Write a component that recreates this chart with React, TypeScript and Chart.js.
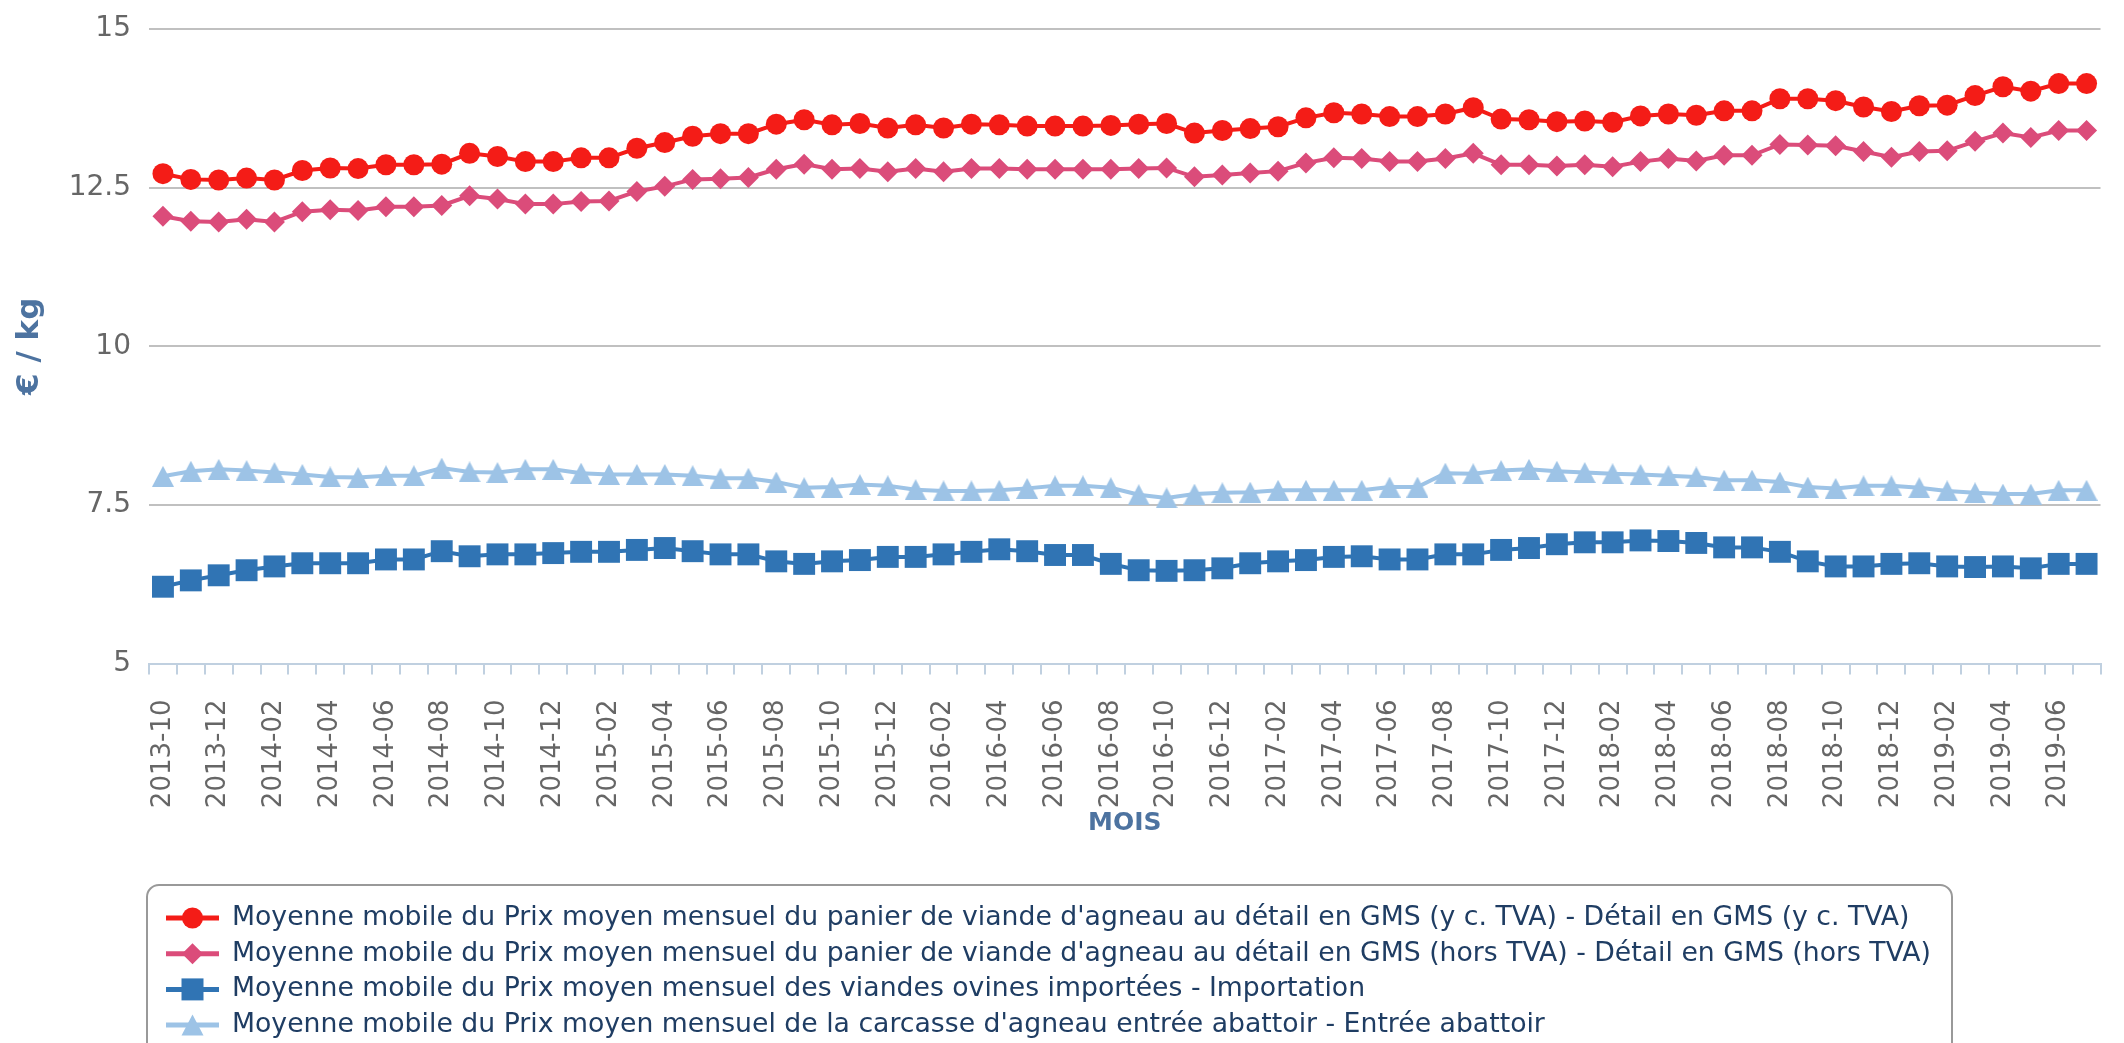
import React, { useEffect, useRef } from 'react';
import { Chart, registerables } from 'chart.js';

Chart.register(...registerables);

const months = [
  '2013-10', '2013-11', '2013-12',
  '2014-01', '2014-02', '2014-03', '2014-04', '2014-05', '2014-06', '2014-07', '2014-08', '2014-09', '2014-10', '2014-11', '2014-12',
  '2015-01', '2015-02', '2015-03', '2015-04', '2015-05', '2015-06', '2015-07', '2015-08', '2015-09', '2015-10', '2015-11', '2015-12',
  '2016-01', '2016-02', '2016-03', '2016-04', '2016-05', '2016-06', '2016-07', '2016-08', '2016-09', '2016-10', '2016-11', '2016-12',
  '2017-01', '2017-02', '2017-03', '2017-04', '2017-05', '2017-06', '2017-07', '2017-08', '2017-09', '2017-10', '2017-11', '2017-12',
  '2018-01', '2018-02', '2018-03', '2018-04', '2018-05', '2018-06', '2018-07', '2018-08', '2018-09', '2018-10', '2018-11', '2018-12',
  '2019-01', '2019-02', '2019-03', '2019-04', '2019-05', '2019-06', '2019-07',
];

const detailTTC = [
  12.72, 12.63, 12.62, 12.65, 12.62, 12.77, 12.81, 12.80, 12.86, 12.86,
  12.87, 13.04, 12.99, 12.91, 12.91, 12.97, 12.97, 13.12, 13.21, 13.31,
  13.35, 13.35, 13.50, 13.57, 13.49, 13.51, 13.44, 13.49, 13.44, 13.50,
  13.49, 13.47, 13.47, 13.47, 13.48, 13.50, 13.51, 13.36, 13.40, 13.43,
  13.46, 13.60, 13.68, 13.66, 13.62, 13.62, 13.66, 13.76, 13.58, 13.57,
  13.54, 13.55, 13.53, 13.63, 13.66, 13.64, 13.71, 13.71, 13.90, 13.90,
  13.87, 13.77, 13.70, 13.79, 13.80, 13.95, 14.09, 14.02, 14.14, 14.14,
];

const detailHT = [
  12.05, 11.97, 11.96, 12.00, 11.96, 12.12, 12.15, 12.14, 12.20, 12.20,
  12.22, 12.37, 12.32, 12.24, 12.24, 12.28, 12.29, 12.44, 12.52, 12.63,
  12.64, 12.66, 12.79, 12.87, 12.79, 12.80, 12.75, 12.80, 12.75, 12.80,
  12.80, 12.79, 12.79, 12.79, 12.79, 12.80, 12.81, 12.67, 12.70, 12.73,
  12.76, 12.89, 12.97, 12.96, 12.91, 12.91, 12.96, 13.04, 12.86, 12.86,
  12.84, 12.86, 12.83, 12.91, 12.96, 12.92, 13.01, 13.01, 13.18, 13.17,
  13.16, 13.07, 12.98, 13.07, 13.08, 13.23, 13.36, 13.29, 13.40, 13.40,
];

const importation = [
  6.21, 6.31, 6.39, 6.47, 6.53, 6.58, 6.58, 6.58, 6.64, 6.64,
  6.77, 6.69, 6.72, 6.72, 6.74, 6.76, 6.76, 6.79, 6.82, 6.77,
  6.72, 6.72, 6.61, 6.57, 6.61, 6.63, 6.68, 6.68, 6.72, 6.76,
  6.80, 6.77, 6.71, 6.71, 6.57, 6.47, 6.46, 6.47, 6.50, 6.58,
  6.61, 6.63, 6.68, 6.69, 6.64, 6.64, 6.72, 6.72, 6.79, 6.82,
  6.88, 6.91, 6.91, 6.94, 6.93, 6.90, 6.83, 6.83, 6.76, 6.61,
  6.53, 6.53, 6.57, 6.58, 6.53, 6.52, 6.53, 6.50, 6.57, 6.57,
];

const abattoir = [
  7.95, 8.03, 8.06, 8.04, 8.01, 7.98, 7.94, 7.93, 7.96, 7.96,
  8.08, 8.02, 8.01, 8.06, 8.06, 8.00, 7.98, 7.98, 7.98, 7.96,
  7.92, 7.92, 7.86, 7.77, 7.78, 7.82, 7.80, 7.74, 7.72, 7.72,
  7.73, 7.76, 7.80, 7.80, 7.77, 7.66, 7.61, 7.67, 7.69, 7.70,
  7.73, 7.73, 7.73, 7.73, 7.78, 7.78, 8.00, 7.99, 8.04, 8.06,
  8.03, 8.01, 7.99, 7.98, 7.96, 7.94, 7.89, 7.89, 7.86, 7.78,
  7.76, 7.80, 7.80, 7.77, 7.72, 7.69, 7.67, 7.67, 7.73, 7.73,
];

const seriesNames = [
  "Moyenne mobile du Prix moyen mensuel du panier de viande d'agneau au détail en GMS (y c. TVA) - Détail en GMS (y c. TVA)",
  "Moyenne mobile du Prix moyen mensuel du panier de viande d'agneau au détail en GMS (hors TVA) - Détail en GMS (hors TVA)",
  'Moyenne mobile du Prix moyen mensuel des viandes ovines importées - Importation',
  "Moyenne mobile du Prix moyen mensuel de la carcasse d'agneau entrée abattoir - Entrée abattoir",
];

const seriesColors = ['#f41c17', '#db4c7a', '#3074b4', '#9dc3e6'];
const seriesMarkers = ['circle', 'diamond', 'square', 'triangle'];

const yTicks = [5, 7.5, 10, 12.5, 15];

const FONT = '"DejaVu Sans", sans-serif';

function makeTriangle(color: string, w: number, h: number): HTMLCanvasElement {
  const c = document.createElement('canvas');
  c.width = w;
  c.height = h;
  const g = c.getContext('2d')!;
  g.fillStyle = color;
  g.beginPath();
  g.moveTo(w / 2, 0);
  g.lineTo(w, h);
  g.lineTo(0, h);
  g.closePath();
  g.fill();
  return c;
}

function drawMarker(ctx: CanvasRenderingContext2D, kind: string, x: number, y: number, color: string) {
  ctx.fillStyle = color;
  ctx.beginPath();
  if (kind === 'circle') {
    ctx.arc(x, y, 10.5, 0, Math.PI * 2);
  } else if (kind === 'diamond') {
    ctx.moveTo(x, y - 10.5);
    ctx.lineTo(x + 10.5, y);
    ctx.lineTo(x, y + 10.5);
    ctx.lineTo(x - 10.5, y);
    ctx.closePath();
  } else if (kind === 'square') {
    ctx.rect(x - 11, y - 11, 22, 22);
  } else {
    ctx.moveTo(x, y - 10.5);
    ctx.lineTo(x + 11, y + 10.5);
    ctx.lineTo(x - 11, y + 10.5);
    ctx.closePath();
  }
  ctx.fill();
}

const boxLegend = {
  id: 'boxLegend',
  afterDraw(chart: any) {
    const ctx: CanvasRenderingContext2D = chart.ctx;
    ctx.save();
    const bx = 139, by = 877, bw = 1805, bh = 260, r = 12;
    ctx.strokeStyle = '#999999';
    ctx.lineWidth = 2;
    ctx.beginPath();
    ctx.moveTo(bx + r, by);
    ctx.lineTo(bx + bw - r, by);
    ctx.arcTo(bx + bw, by, bx + bw, by + r, r);
    ctx.lineTo(bx + bw, by + bh);
    ctx.lineTo(bx, by + bh);
    ctx.lineTo(bx, by + r);
    ctx.arcTo(bx, by, bx + r, by, r);
    ctx.closePath();
    ctx.stroke();
    chart.data.datasets.forEach((ds: any, i: number) => {
      const cy = 910 + i * 35.7;
      ctx.strokeStyle = seriesColors[i];
      ctx.lineWidth = 5;
      ctx.beginPath();
      ctx.moveTo(158, cy);
      ctx.lineTo(211, cy);
      ctx.stroke();
      drawMarker(ctx, seriesMarkers[i], 184.5, cy, seriesColors[i]);
      ctx.fillStyle = '#1f3d63';
      ctx.font = '26.7px ' + FONT;
      ctx.textBaseline = 'middle';
      ctx.textAlign = 'left';
      ctx.fillText(ds.label, 224, cy);
    });
    ctx.restore();
  },
};

export default function App() {
  const ref = useRef<HTMLCanvasElement | null>(null);

  useEffect(() => {
    document.body.style.overflow = 'hidden';
    document.documentElement.style.overflow = 'hidden';
    const canvas = ref.current;
    if (!canvas) return;
    const triangle = makeTriangle(seriesColors[3], 22, 21);
    const styles: any[] = ['circle', 'rectRot', 'rect', triangle];
    const radii = [10.5, 10.5, 15.5, 11];
    const values = [detailTTC, detailHT, importation, abattoir];

    const chart = new Chart(canvas, {
      type: 'line',
      data: {
        labels: months,
        datasets: values.map((v, i) => ({
          label: seriesNames[i],
          data: v,
          borderColor: seriesColors[i],
          backgroundColor: seriesColors[i],
          pointBackgroundColor: seriesColors[i],
          pointBorderColor: seriesColors[i],
          pointBorderWidth: 0,
          pointStyle: styles[i],
          pointRadius: radii[i],
          borderWidth: 4,
          tension: 0,
          fill: false,
          clip: false as any,
        })),
      },
      options: {
        responsive: false,
        animation: false,
        events: [],
        layout: { padding: { left: 0, right: 14, top: 21, bottom: 264.5 } },
        plugins: {
          legend: { display: false },
          tooltip: { enabled: false },
        },
        scales: {
          x: {
            type: 'category',
            offset: true,
            afterFit: (s: any) => {
              s.height = 180;
              s.paddingLeft = 0;
              s.paddingRight = 0;
            },
            grid: {
              display: true,
              drawOnChartArea: false,
              drawTicks: true,
              tickLength: 11,
              color: '#c0d0e0',
              lineWidth: 2,
              offset: true,
            },
            border: { display: true, color: '#c0d0e0', width: 2 },
            ticks: {
              autoSkip: false,
              minRotation: 90,
              maxRotation: 90,
              padding: 25,
              color: '#666666',
              font: { family: FONT, size: 26 },
              callback: (_v: any, i: number) => (i % 2 === 0 ? months[i] : ''),
            },
            title: {
              display: true,
              text: 'MOIS',
              color: '#4d73a0',
              font: { family: FONT, size: 25, weight: 'bold' },
              padding: { top: 0, bottom: 5.5 },
            },
          },
          y: {
            min: 5,
            max: 15,
            afterFit: (s: any) => {
              s.width = 141;
              s.paddingTop = 0;
              s.paddingBottom = 0;
            },
            afterBuildTicks: (s: any) => { s.ticks = yTicks.map((v) => ({ value: v })); },
            grid: {
              color: (c: any) => (c.tick && c.tick.value === 5 ? 'rgba(0,0,0,0)' : '#c0c0c0'),
              lineWidth: 2,
              drawTicks: false,
            },
            border: { display: false },
            ticks: {
              padding: 18,
              color: '#666666',
              font: { family: FONT, size: 28 },
              callback: (v: any) => String(v),
            },
            title: {
              display: true,
              text: '€ / kg',
              color: '#4d73a0',
              font: { family: FONT, size: 31, weight: 'bold' },
              padding: { top: 3, bottom: 0 },
            },
          },
        },
      },
      plugins: [boxLegend],
    });
    return () => chart.destroy();
  }, []);

  return (
    <div style={{ width: 2108, height: 1100 }}>
      <canvas ref={ref} width={2108} height={1100} style={{ display: 'block' }} />
    </div>
  );
}
